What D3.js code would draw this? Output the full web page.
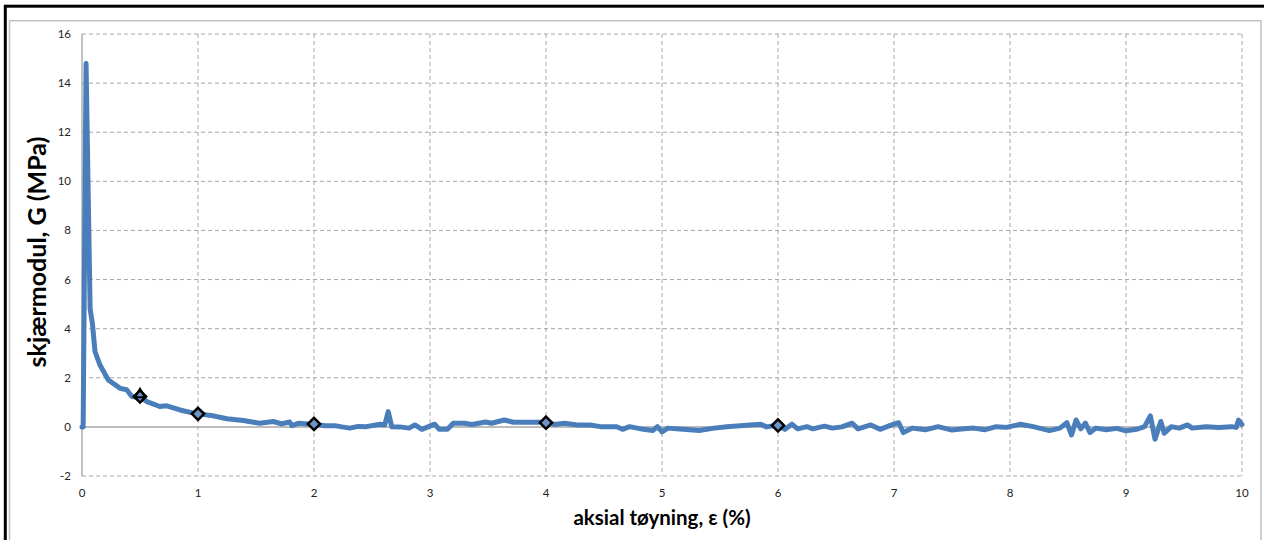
<!DOCTYPE html>
<html><head><meta charset="utf-8">
<script src="https://cdn.jsdelivr.net/npm/d3@7"></script>
<style>body{margin:0;background:#fff;}svg{display:block;}</style>
</head><body>
<svg id="c" width="1264" height="540"></svg>
<script>
const xTicks = [0,1,2,3,4,5,6,7,8,9,10];
const yTicks = [-2,0,2,4,6,8,10,12,14,16];
const xLabel = "aksial tøyning, ε (%)";
const yLabel = "skjærmodul, G (MPa)";

const strain = [0,0.01,0.035,0.07,0.09,0.112,0.155,0.227,0.33,0.385,0.43,0.5,0.56,0.67,0.73,0.845,0.96,1.0,1.13,1.25,1.39,1.53,1.65,1.72,1.79,1.81,1.87,2.0,2.1,2.18,2.24,2.31,2.38,2.45,2.57,2.61,2.64,2.67,2.74,2.82,2.87,2.93,3.04,3.08,3.15,3.2,3.3,3.36,3.48,3.53,3.64,3.72,3.89,4.0,4.07,4.16,4.27,4.38,4.47,4.61,4.66,4.72,4.84,4.92,4.96,5.0,5.05,5.18,5.32,5.45,5.56,5.76,5.85,5.9,6.0,6.06,6.12,6.17,6.25,6.3,6.4,6.47,6.55,6.64,6.69,6.8,6.88,6.98,7.04,7.08,7.16,7.27,7.38,7.5,7.6,7.69,7.78,7.88,7.97,8.09,8.2,8.34,8.43,8.49,8.53,8.57,8.61,8.65,8.69,8.74,8.83,8.92,9.0,9.09,9.16,9.21,9.25,9.3,9.33,9.39,9.46,9.53,9.57,9.69,9.8,9.91,9.95,9.97,10.0];
const modulus = [0,0,14.8,4.8,4.2,3.07,2.52,1.91,1.57,1.51,1.24,1.2,1.03,0.83,0.86,0.69,0.56,0.53,0.45,0.33,0.26,0.15,0.22,0.12,0.2,0.05,0.15,0.1,0.05,0.05,0.0,-0.05,0.02,0.01,0.11,0.08,0.62,0.01,0.0,-0.05,0.08,-0.1,0.11,-0.1,-0.1,0.15,0.15,0.1,0.2,0.15,0.28,0.19,0.19,0.19,0.1,0.15,0.08,0.08,0.01,0.01,-0.1,0.01,-0.1,-0.15,0.01,-0.2,-0.05,-0.1,-0.15,-0.05,0.01,0.08,0.11,0.0,0.08,-0.1,0.11,-0.08,0.01,-0.08,0.03,-0.05,0.0,0.15,-0.08,0.08,-0.1,0.08,0.17,-0.23,-0.05,-0.12,0.01,-0.13,-0.08,-0.05,-0.12,0.01,-0.02,0.11,0.01,-0.15,-0.05,0.17,-0.33,0.28,-0.08,0.15,-0.23,-0.05,-0.12,-0.06,-0.16,-0.1,0.01,0.45,-0.5,0.22,-0.26,0.01,-0.05,0.08,-0.05,0.01,-0.02,0.01,-0.02,0.28,0.1];
const markStrain = [0.5,1,2,4,6];
const markModulus = [1.24,0.53,0.12,0.17,0.06];
const triStrain = [0.5];
const triModulus = [1.32];

const svg = d3.select("#c");
const L=82,R=1242,T=34,B=476;
const x = d3.scaleLinear().domain([0,10]).range([L,R]);
const y = d3.scaleLinear().domain([-2,16]).range([B,T]);

// frames
svg.append("rect").attr("x",5.3).attr("y",6.2).attr("width",1300).attr("height",600)
  .attr("fill","none").attr("stroke","#000").attr("stroke-width",3);
svg.append("rect").attr("x",9.5).attr("y",20.7).attr("width",1251.5).attr("height",600)
  .attr("fill","none").attr("stroke","#c0c0c0").attr("stroke-width",1.5);

// grid
const g = svg.append("g");
g.selectAll(".hg").data(yTicks.filter(d=>d!==0)).join("line")
  .attr("x1",L).attr("x2",R).attr("y1",d=>y(d)).attr("y2",d=>y(d))
  .attr("stroke","#a6a6a6").attr("stroke-width",1).attr("stroke-dasharray","4,3");
g.selectAll(".vg").data(xTicks.filter(d=>d!==0)).join("line")
  .attr("y1",T).attr("y2",B).attr("x1",d=>x(d)).attr("x2",d=>x(d))
  .attr("stroke","#a6a6a6").attr("stroke-width",1).attr("stroke-dasharray","4,3");
g.append("line").attr("x1",L).attr("x2",R).attr("y1",y(0)).attr("y2",y(0))
  .attr("stroke","#a6a6a6").attr("stroke-width",1.5);
g.append("line").attr("x1",L).attr("x2",L).attr("y1",T).attr("y2",B)
  .attr("stroke","#868686").attr("stroke-width",1);

// tick labels
const font = "Lato, 'Open Sans', sans-serif";
svg.selectAll(".yt").data(yTicks).join("text")
  .attr("x",71).attr("y",d=>y(d)+4).attr("text-anchor","end")
  .attr("font-family",font).attr("font-size",11.5).attr("fill","#222").text(d=>d);
svg.selectAll(".xt").data(xTicks).join("text")
  .attr("x",d=>x(d)).attr("y",497).attr("text-anchor","middle")
  .attr("font-family",font).attr("font-size",11.5).attr("fill","#222").text(d=>d);

// titles
svg.append("text").attr("x",662).attr("y",525).attr("text-anchor","middle")
  .attr("font-family",font).attr("font-weight","bold").attr("font-size",20.5).text(xLabel);
svg.append("text").attr("transform","translate(46,252) rotate(-90)").attr("text-anchor","middle")
  .attr("font-family",font).attr("font-weight","bold").attr("font-size",25).text(yLabel);

// line
const data = strain.map((s,i)=>[s,modulus[i]]);
svg.append("path").datum(data)
  .attr("d",d3.line().x(d=>x(d[0])).y(d=>y(d[1])))
  .attr("fill","none").attr("stroke","#4a7ebb").attr("stroke-width",5)
  .attr("stroke-linejoin","round").attr("stroke-linecap","round");

// markers
const mk = markStrain.map((s,i)=>[s,markModulus[i]]);
svg.selectAll(".mk").data(mk).join("path")
  .attr("d",d3.symbol().type(d3.symbolDiamond2).size(95))
  .attr("transform",d=>`translate(${x(d[0])},${y(d[1])})`)
  .attr("fill","#6f95c8").attr("stroke","#000").attr("stroke-width",2.5);
const tr = triStrain.map((s,i)=>[s,triModulus[i]]);
svg.selectAll(".tr").data(tr).join("path")
  .attr("d",d3.symbol().type(d3.symbolTriangle2).size(70))
  .attr("transform",d=>`translate(${x(d[0])},${y(d[1])})`)
  .attr("fill","none").attr("stroke","#000").attr("stroke-width",2);
</script>
</body></html>
